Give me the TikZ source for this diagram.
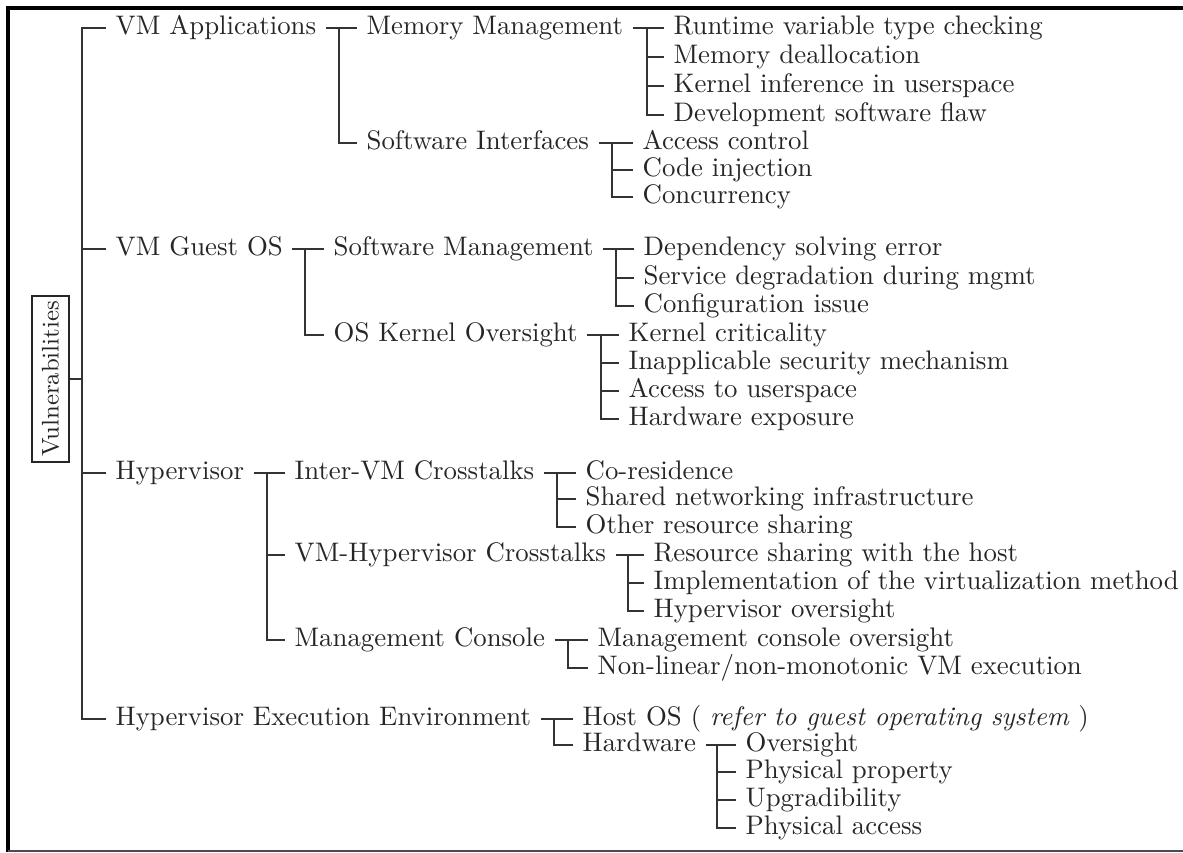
\documentclass[tikz,border=0pt]{standalone}
\begin{document}
\begin{tikzpicture}[x=0.373pt,y=-0.373pt,
  conn/.style={line width=0.6pt,draw=black!80},
  lbl/.style={anchor=west,inner xsep=3.4pt,inner ysep=0pt,text height=7pt,text depth=2pt,text=black!85},
  rootbox/.style={draw=black!85,line width=0.6pt,rotate=90,inner xsep=1.8pt,inner ysep=3.6pt,text=black!85,font=\small}]
\useasboundingbox (0,0) rectangle (1183,852);
% frame
\draw[line width=1.5pt] (8,852) -- (8,8) -- (1183,8);
\draw[line width=0.5pt,black!70] (8,851) -- (1183,851);

% root
\node[rootbox] (r) at (50.5,379) {Vulnerabilities};
\coordinate (t0) at (82,379);

% level 1
\node[lbl] (a1) at (106,28) {VM Applications};
\node[lbl] (a2) at (106,249) {VM Guest OS};
\node[lbl] (a3) at (106,473) {Hypervisor};
\node[lbl] (a4) at (106,719) {Hypervisor Execution Environment};

% level 2
\node[lbl] (b11) at (357,28) {Memory Management};
\node[lbl] (b12) at (357,143) {Software Interfaces};
\node[lbl] (b21) at (324,249) {Software Management};
\node[lbl] (b22) at (324,335) {OS Kernel Oversight};
\node[lbl] (b31) at (285,473) {Inter-VM Crosstalks};
\node[lbl] (b32) at (285,555) {VM-Hypervisor Crosstalks};
\node[lbl] (b33) at (285,640) {Management Console};
\node[lbl] (b41) at (573,719) {Host OS ( \textit{refer to guest operating system} )};
\node[lbl] (b42) at (573,745) {Hardware};

% level 3
\node[lbl] (c111) at (664,28) {Runtime variable type checking};
\node[lbl] (c112) at (664,57) {Memory deallocation};
\node[lbl] (c113) at (664,86) {Kernel inference in userspace};
\node[lbl] (c114) at (664,115) {Development software flaw};
\node[lbl] (c121) at (633,143) {Access control};
\node[lbl] (c122) at (633,170) {Code injection};
\node[lbl] (c123) at (633,197) {Concurrency};
\node[lbl] (c211) at (634,249) {Dependency solving error};
\node[lbl] (c212) at (634,278) {Service degradation during mgmt};
\node[lbl] (c213) at (634,306) {Configuration issue};
\node[lbl] (c221) at (619,335) {Kernel criticality};
\node[lbl] (c222) at (619,363) {Inapplicable security mechanism};
\node[lbl] (c223) at (619,391) {Access to userspace};
\node[lbl] (c224) at (619,419) {Hardware exposure};
\node[lbl] (c311) at (576,473) {Co-residence};
\node[lbl] (c312) at (576,499) {Shared networking infrastructure};
\node[lbl] (c313) at (576,527) {Other resource sharing};
\node[lbl] (c321) at (644,555) {Resource sharing with the host};
\node[lbl] (c322) at (644,583) {Implementation of the virtualization method};
\node[lbl] (c323) at (644,611) {Hypervisor oversight};
\node[lbl] (c331) at (588,640) {Management console oversight};
\node[lbl] (c332) at (588,668) {Non-linear/non-monotonic VM execution};
\node[lbl] (c421) at (736,745) {Oversight};
\node[lbl] (c422) at (736,772) {Physical property};
\node[lbl] (c423) at (736,800) {Upgradibility};
\node[lbl] (c424) at (736,828) {Physical access};

% fork points
\coordinate (f1) at (339,28);
\coordinate (f2) at (305,249);
\coordinate (f3) at (267,473);
\coordinate (f4) at (554,719);
\coordinate (f11) at (647,28);
\coordinate (f12) at (612,143);
\coordinate (f21) at (616,249);
\coordinate (f22) at (601,335);
\coordinate (f31) at (557,473);
\coordinate (f32) at (628,555);
\coordinate (f33) at (568,640);
\coordinate (f42) at (717,745);

% trunk
\draw[conn] (r.south) -- (t0);
\foreach \n in {a1,a2,a3,a4} \draw[conn] (t0) |- (\n.west);

% forks: parent to first child, then the rest hang from the fork
\draw[conn] (a1.east) -- (b11.west);  \draw[conn] (f1) |- (b12.west);
\draw[conn] (a2.east) -- (b21.west);  \draw[conn] (f2) |- (b22.west);
\draw[conn] (a3.east) -- (b31.west);
\foreach \n in {b32,b33} \draw[conn] (f3) |- (\n.west);
\draw[conn] (a4.east) -- (b41.west);  \draw[conn] (f4) |- (b42.west);

\draw[conn] (b11.east) -- (c111.west);
\foreach \n in {c112,c113,c114} \draw[conn] (f11) |- (\n.west);
\draw[conn] (b12.east) -- (c121.west);
\foreach \n in {c122,c123} \draw[conn] (f12) |- (\n.west);
\draw[conn] (b21.east) -- (c211.west);
\foreach \n in {c212,c213} \draw[conn] (f21) |- (\n.west);
\draw[conn] (b22.east) -- (c221.west);
\foreach \n in {c222,c223,c224} \draw[conn] (f22) |- (\n.west);
\draw[conn] (b31.east) -- (c311.west);
\foreach \n in {c312,c313} \draw[conn] (f31) |- (\n.west);
\draw[conn] (b32.east) -- (c321.west);
\foreach \n in {c322,c323} \draw[conn] (f32) |- (\n.west);
\draw[conn] (b33.east) -- (c331.west);
\draw[conn] (f33) |- (c332.west);
\draw[conn] (b42.east) -- (c421.west);
\foreach \n in {c422,c423,c424} \draw[conn] (f42) |- (\n.west);
\end{tikzpicture}
\end{document}
